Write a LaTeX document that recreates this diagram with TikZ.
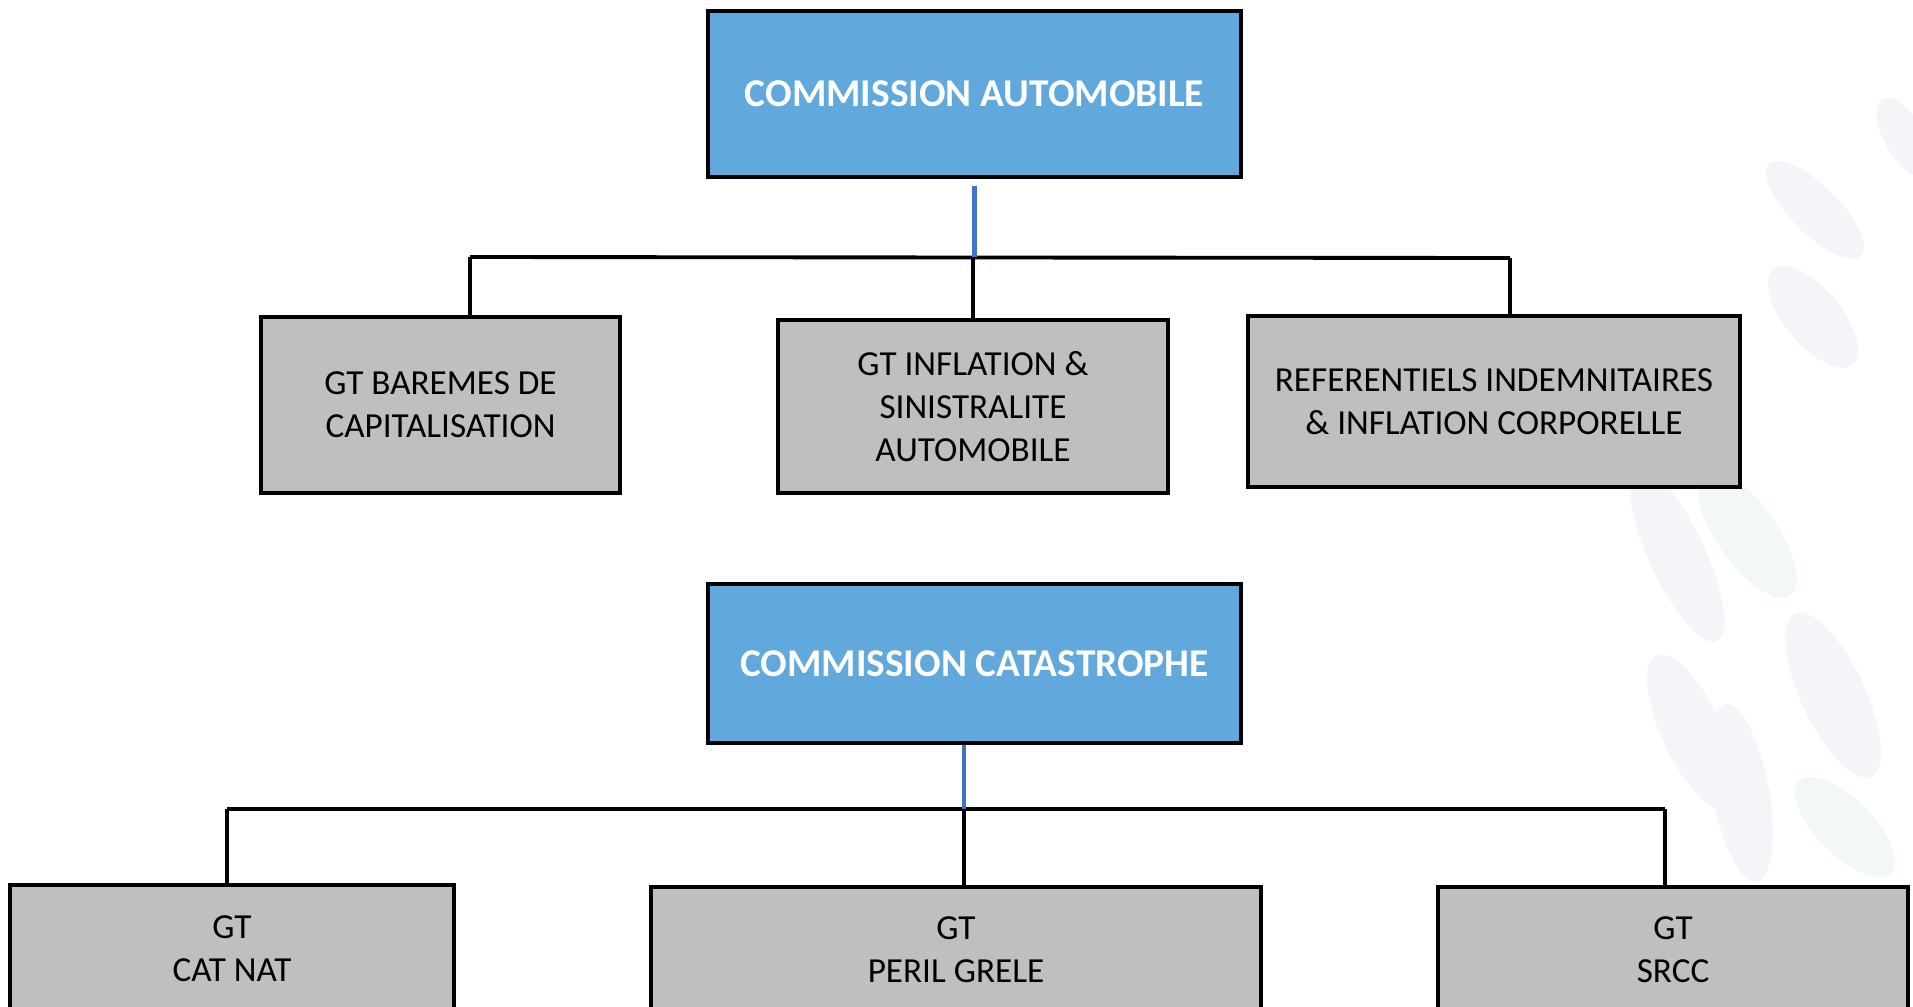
\documentclass[tikz,border=0pt]{standalone}
\usepackage{fontspec}
\setmainfont{Carlito}
\usetikzlibrary{positioning,calc}

\definecolor{commblue}{HTML}{61A8DC}
\definecolor{gtgray}{HTML}{BFBFBF}
\definecolor{linkblue}{HTML}{4472C4}
\definecolor{leafgray}{HTML}{F4F5F8}
\definecolor{leafgreen}{HTML}{F2F8F7}

\tikzset{
  commission/.style={draw=black, line width=1.3pt, fill=commblue, text=white, inner sep=0pt,
    minimum width=5.33cm, font=\fontsize{11.2}{13}\selectfont\bfseries},
  gtbox/.style={draw=black, line width=1.3pt, fill=gtgray, inner sep=0pt, align=center,
    font=\fontsize{10}{12.2}\selectfont},
  bus/.style={draw=black, line width=1.1pt},
  feed/.style={draw=linkblue, line width=1.2pt},
  leaf/.style={fill=#1}
}

\begin{document}
\begin{tikzpicture}[x=0.01cm,y=-0.01cm]
  \useasboundingbox (0,0) rectangle (1913,1006);
  \clip (0,0) rectangle (1913,1006);

  % faint leaves in the background
  \fill[leaf=leafgray, rotate around={-60:(1905,138)}] (1905,138) ellipse (45 and 20);
  \fill[leaf=leafgray, rotate around={-45:(1815,210)}] (1815,210) ellipse (65 and 24);
  \fill[leaf=leafgray, rotate around={-50:(1813,317)}] (1813,317) ellipse (62 and 28);
  \fill[leaf=leafgray, rotate around={-65:(1677,555)}] (1677,555) ellipse (95 and 28);
  \fill[leaf=leafgreen, rotate around={-55:(1747,534)}] (1747,534) ellipse (75 and 30);
  \fill[leaf=leafgray, rotate around={-65:(1692,732)}] (1692,732) ellipse (85 and 30);
  \fill[leaf=leafgray, rotate around={-65:(1833,695)}] (1833,695) ellipse (90 and 32);
  \fill[leaf=leafgray, rotate around={-80:(1741,793)}] (1741,793) ellipse (90 and 28);
  \fill[leaf=leafgreen, rotate around={-45:(1845,827)}] (1845,827) ellipse (65 and 28);

  % Commission automobile
  \node[commission, minimum height=1.66cm] (auto) at (974.5,94) {COMMISSION AUTOMOBILE};
  \node[gtbox, minimum width=3.59cm, minimum height=1.76cm] (bareme) at (440.5,405)
    {GT BAREMES DE\\CAPITALISATION};
  \node[gtbox, minimum width=3.90cm, minimum height=1.73cm] (inflation) at (973,406.5)
    {GT INFLATION \&\\SINISTRALITE\\AUTOMOBILE};
  \node[gtbox, minimum width=4.92cm, minimum height=1.71cm] (referentiel) at (1494,401.5)
    {REFERENTIELS INDEMNITAIRES\\\& INFLATION CORPORELLE};

  \coordinate (autoL) at (470,257);
  \coordinate (autoR) at (1510,258);
  \draw[bus] (autoL) -- (autoR);
  \draw[bus] (autoL) -- (autoL |- bareme.north);
  \draw[bus] (inflation.north) -- (inflation.north |- autoL);
  \draw[bus] (autoR) -- (autoR |- referentiel.north);
  \draw[feed, shorten <=2pt] (auto.south) -- (auto.south |- autoL);

  % Commission catastrophe
  \node[commission, minimum height=1.59cm] (cata) at (974.5,663.5) {COMMISSION CATASTROPHE};
  \node[gtbox, minimum width=4.44cm, minimum height=1.27cm] (catnat) at (232,948.5)
    {GT\\CAT NAT};
  \node[gtbox, minimum width=6.10cm, minimum height=1.25cm] (grele) at (956,949.5)
    {GT\\PERIL GRELE};
  \node[gtbox, minimum width=4.70cm, minimum height=1.25cm] (srcc) at (1673,949.5)
    {GT\\SRCC};

  \coordinate (cataL) at (227,809);
  \coordinate (cataM) at (964,809);
  \coordinate (cataR) at (1665,809);
  \draw[bus] (cataL) -- (cataR);
  \draw[bus] (cataL) -- (cataL |- catnat.north);
  \draw[bus] (cataM) -- (cataM |- grele.north);
  \draw[bus] (cataR) -- (cataR |- srcc.north);
  \draw[feed] (cataM |- cata.south) -- (cataM);
\end{tikzpicture}
\end{document}
